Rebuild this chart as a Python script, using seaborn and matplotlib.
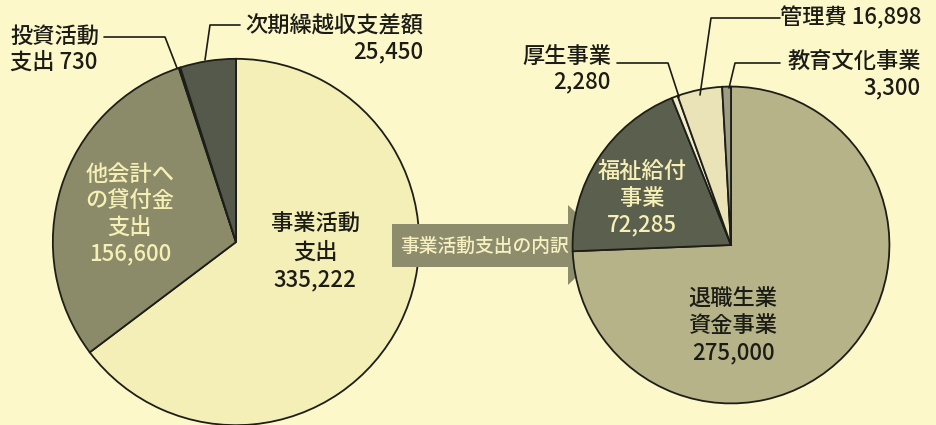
import numpy as np
import pandas as pd
import seaborn as sns
import matplotlib.pyplot as plt
from matplotlib.patches import Polygon

sns.set_theme(style="white")
plt.rcParams['font.family'] = ['Noto Sans CJK JP', 'DejaVu Sans']
plt.rcParams['font.weight'] = 'medium'

# 支出の内訳 (左)
left_labels = ['事業活動支出', '他会計への貸付金支出', '投資活動支出', '次期繰越収支差額']
left_values = [335222, 156600, 730, 25450]
left_colors = ['#f4efb6', '#8b8b69', '#f3f1d6', '#55594b']

# 事業活動支出の内訳 (右)
right_labels = ['退職生業資金事業', '福祉給付事業', '厚生事業', '管理費', '教育文化事業']
right_values = [275000, 72285, 2280, 16898, 3300]
right_colors = ['#b6b389', '#5b5f4d', '#f1edca', '#e9e3b7', '#9d9d85']

bg = '#fcf8ca'
W, H = 936, 425

df_left = pd.DataFrame({'label': left_labels, 'value': left_values})
df_right = pd.DataFrame({'label': right_labels, 'value': right_values})

fig = plt.figure(figsize=(W / 100, H / 100), dpi=100)
fig.patch.set_facecolor(bg)


def px_axes(cx, cy, r):
    # 画素座標(左上原点)から円グラフ用のaxesを作る
    return fig.add_axes([(cx - r) / W, (H - cy - r) / H, 2 * r / W, 2 * r / H])


def draw_pie(ax, df, colors):
    ax.pie(df['value'], colors=colors, startangle=90, counterclock=False,
           wedgeprops=dict(edgecolor='#1e1e18', linewidth=1.3))
    ax.set_xlim(-1.01, 1.01)
    ax.set_ylim(-1.01, 1.01)
    ax.set_aspect('equal')
    ax.axis('off')
    for p in ax.patches:
        p.set_clip_on(False)


ax_l = px_axes(236, 242, 185)
draw_pie(ax_l, df_left, left_colors)

# 矢印
ax_arrow = fig.add_axes([0, 0, 1, 1])
ax_arrow.set_xlim(0, W)
ax_arrow.set_ylim(H, 0)
ax_arrow.axis('off')
arrow_pts = [(392, 224), (568, 224), (568, 205), (610, 245),
             (568, 285), (568, 267), (392, 267)]
ax_arrow.add_patch(Polygon(arrow_pts, closed=True, facecolor='#8d8c6c', edgecolor='none'))
ax_arrow.text(485, 246, '事業活動支出の内訳', ha='center', va='center',
              fontsize=13.5, color='#f7f1c2')

ax_r = px_axes(731, 245, 160)
draw_pie(ax_r, df_right, right_colors)

# 文字と引出線
ax_t = fig.add_axes([0, 0, 1, 1])
ax_t.set_xlim(0, W)
ax_t.set_ylim(H, 0)
ax_t.axis('off')

dark = '#1c1c16'
light = '#f6f0b6'
lw = 1.2

ax_t.text(315, 252, f"事業活動\n支出\n{left_values[0]:,}", ha='center', va='center',
          fontsize=16, color=dark, linespacing=1.25)
ax_t.text(130, 214, f"他会計へ\nの貸付金\n支出\n{left_values[1]:,}", ha='center', va='center',
          fontsize=16, color=light, linespacing=1.2)
ax_t.text(10, 49, f"投資活動\n支出 {left_values[2]:,}", ha='left', va='center',
          fontsize=16, color=dark, linespacing=1.15)
ax_t.plot([104, 165, 177], [37, 37, 68], color=dark, lw=lw)
ax_t.text(423, 39, f"次期繰越収支差額\n{left_values[3]:,}", ha='right', va='center',
          fontsize=16, color=dark, linespacing=1.15)
ax_t.plot([240, 210, 205], [25, 25, 60], color=dark, lw=lw)

ax_t.text(733, 326, f"退職生業\n資金事業\n{right_values[0]:,}", ha='center', va='center',
          fontsize=16, color=dark, linespacing=1.2)
ax_t.text(642, 198, f"福祉給付\n事業\n{right_values[1]:,}", ha='center', va='center',
          fontsize=16, color=light, linespacing=1.2)
ax_t.text(611, 69, f"厚生事業\n{right_values[2]:,}", ha='right', va='center',
          fontsize=16, color=dark, linespacing=1.15)
ax_t.plot([617, 668, 679], [63, 63, 97], color=dark, lw=lw)
ax_t.text(921, 18, f"管理費 {right_values[3]:,}", ha='right', va='center',
          fontsize=16, color=dark)
ax_t.plot([780, 711, 700], [18, 18, 95], color=dark, lw=lw)
ax_t.text(921, 75, f"教育文化事業\n{right_values[4]:,}", ha='right', va='center',
          fontsize=16, color=dark, linespacing=1.15)
ax_t.plot([780, 735, 729], [63, 63, 88], color=dark, lw=lw)

fig.savefig('out.png', dpi=100, facecolor=bg)
